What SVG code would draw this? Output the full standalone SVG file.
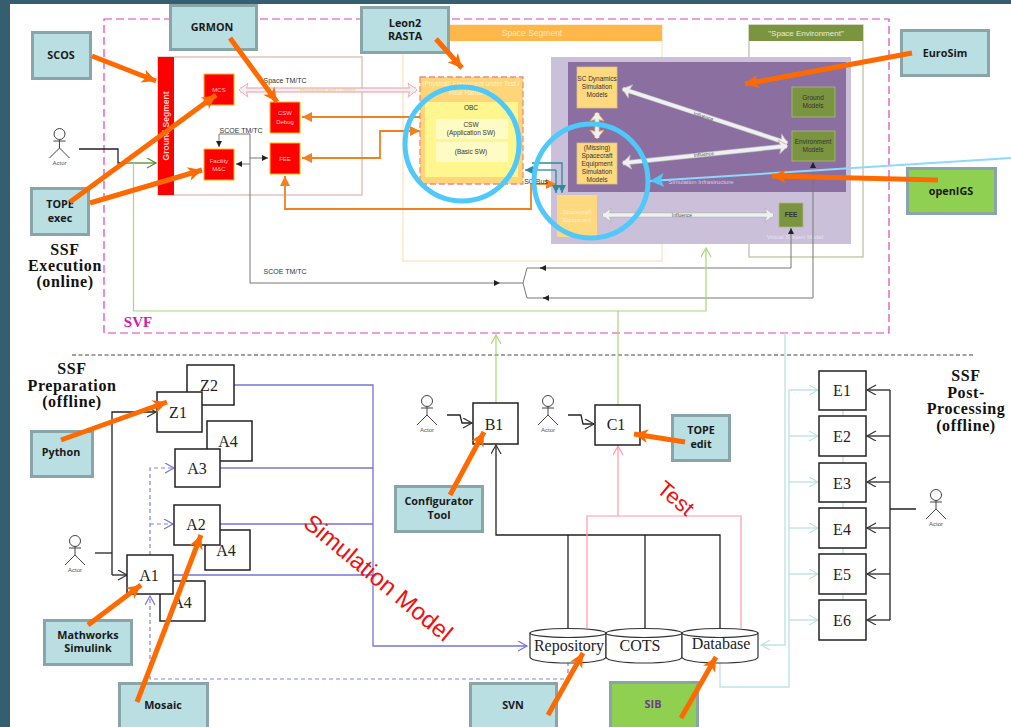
<svg xmlns="http://www.w3.org/2000/svg" width="1011" height="727" viewBox="0 0 1011 727">
<style>
text{font-family:"Liberation Sans",Arial,sans-serif;text-anchor:middle}
.tool{stroke:#8aa5a8;stroke-width:3;fill:#b9dfe2}
.grn{stroke:#8aa5a8;stroke-width:3;fill:#90d050}
.tl{font-family:"Open Sans","Liberation Sans",sans-serif;font-size:10.8px;font-weight:700;fill:#1a1a1a}
.ser{font-family:"Liberation Serif",serif;font-weight:700;font-size:16px;letter-spacing:.6px;fill:#111}
.b{fill:#fff;stroke:#222;stroke-width:1.5}
.bt{font-family:"Liberation Serif",serif;font-size:16px;fill:#222}
.red{fill:#f00;stroke:#ffc000;stroke-width:1}
.rt{font-size:6px;fill:#ffc8c8}
.yl{fill:#ffd980;stroke:#d8c080;stroke-width:.8}
.gr{fill:#7b9440;stroke:#a8bc78;stroke-width:.8}
.s{font-size:6.5px;fill:#333}
.sm{font-size:7px;fill:#333}
.o{fill:none;stroke:#ff6a00;stroke-width:5;marker-end:url(#oa)}
.m{fill:none;stroke:#f08020;stroke-width:1.8}
.g{fill:none;stroke:#777;stroke-width:1}
.k{fill:none;stroke:#222;stroke-width:1.3}
.pb{fill:none;stroke:#7474d8;stroke-width:1.3}
.pd{fill:none;stroke:#8484dd;stroke-width:1.2;stroke-dasharray:4 3}
.lg{fill:none;stroke:#a8d878;stroke-width:1.2}
.lc{fill:none;stroke:#bfe3e6;stroke-width:1.4}
.pk{fill:none;stroke:#ff9aa5;stroke-width:1.2}
.te{fill:none;stroke:#2a8aa0;stroke-width:1.3}
.infb{fill:none;stroke:#b8b8a8;stroke-width:5;marker-start:url(#ya);marker-end:url(#ya)}
.inf{fill:none;stroke:#eef0f5;stroke-width:3.5}
.circ{fill:none;stroke:#4fc8fa;stroke-width:5}
.act{fill:none;stroke:#444;stroke-width:1}
.at{font-size:6px;fill:#555}
.cy{fill:#fff;stroke:#333;stroke-width:1.2}
</style>
<defs>
<marker id="oa" markerUnits="userSpaceOnUse" markerWidth="18" markerHeight="16" refX="15" refY="8" orient="auto"><path d="M1 1L15 8L1 15L5 8Z" fill="#ff6a00"/></marker>
<marker id="ma" markerUnits="userSpaceOnUse" markerWidth="12" markerHeight="10" refX="10" refY="5" orient="auto"><path d="M0 0L10 5L0 10Z" fill="#f08020"/></marker>
<marker id="ta" markerUnits="userSpaceOnUse" markerWidth="10" markerHeight="10" refX="8" refY="4" orient="auto"><path d="M0 0L8 4L0 8Z" fill="#2a8aa0"/></marker>
<marker id="ka" markerUnits="userSpaceOnUse" markerWidth="8" markerHeight="8" refX="6" refY="3" orient="auto"><path d="M0 0L6 3L0 6Z" fill="#222"/></marker>
<marker id="ya" markerUnits="userSpaceOnUse" markerWidth="12" markerHeight="16" refX="9" refY="8" orient="auto-start-reverse"><path d="M1 1L10 8L1 15L3 8Z" fill="#eef0f5" stroke="#b8b8a8" stroke-width=".8"/></marker>
<marker id="va" markerUnits="userSpaceOnUse" markerWidth="12" markerHeight="16" refX="9" refY="8" orient="auto-start-reverse"><path d="M1 1L10 8L1 15L3 8Z" fill="#eef0f5" stroke="#e0b060" stroke-width=".8"/></marker>
<marker id="pa" markerUnits="userSpaceOnUse" markerWidth="12" markerHeight="16" refX="9" refY="8" orient="auto-start-reverse"><path d="M1 1L10 8L1 15L3 8Z" fill="#eef0f5" stroke="#f09aa0" stroke-width=".8"/></marker>
<marker id="ok" markerUnits="userSpaceOnUse" markerWidth="12" markerHeight="12" refX="10" refY="5" orient="auto"><path d="M1 0L10 5L1 10" fill="none" stroke="#333" stroke-width="1.2"/></marker>
<marker id="ob" markerUnits="userSpaceOnUse" markerWidth="12" markerHeight="12" refX="10" refY="5" orient="auto"><path d="M1 0L10 5L1 10" fill="none" stroke="#7474d8" stroke-width="1.2"/></marker>
<marker id="og" markerUnits="userSpaceOnUse" markerWidth="12" markerHeight="12" refX="10" refY="5" orient="auto"><path d="M1 0L10 5L1 10" fill="none" stroke="#a8d878" stroke-width="1.2"/></marker>
<marker id="odg" markerUnits="userSpaceOnUse" markerWidth="12" markerHeight="12" refX="10" refY="5" orient="auto"><path d="M1 0L10 5L1 10" fill="none" stroke="#4f8a30" stroke-width="1.2"/></marker>
<marker id="oc" markerUnits="userSpaceOnUse" markerWidth="12" markerHeight="12" refX="10" refY="5" orient="auto"><path d="M1 0L10 5L1 10" fill="none" stroke="#bfe3e6" stroke-width="1.2"/></marker>
<marker id="op" markerUnits="userSpaceOnUse" markerWidth="12" markerHeight="12" refX="10" refY="5" orient="auto"><path d="M1 0L10 5L1 10" fill="none" stroke="#ff9aa5" stroke-width="1.2"/></marker>
<marker id="lb" markerUnits="userSpaceOnUse" markerWidth="18" markerHeight="16" refX="15" refY="8" orient="auto"><path d="M1 1L15 8L1 15L4 8Z" fill="#4fc8fa"/></marker>
<g id="actor"><circle cx="0" cy="0" r="5.500" class="act"/><path d="M-6 7H6M0 5.500V14L-10 24M0 14L10 24" class="act"/><text x="0" y="31" class="at">Actor</text></g>
</defs>

<rect width="1011" height="727" fill="#fff"/>
<rect width="1011" height="4" fill="#355e70"/>
<rect width="10" height="727" fill="#355e70"/>

<rect id="svf-frame" x="104" y="19" width="785" height="314" fill="none" stroke="#e040c0" stroke-width="1.2" stroke-dasharray="8 4"/>
<text x="138" y="327" style="font-family:'Liberation Serif',serif;font-weight:700;font-size:15px;fill:#d020a8">SVF</text>
<path d="M72 355H973" fill="none" stroke="#444" stroke-width="1" stroke-dasharray="4 2.500"/>

<g id="ground-segment">
<rect x="158" y="57" width="204" height="138" fill="#fff" stroke="#e0c4bc" stroke-width="1.500"/>
<rect x="158" y="57" width="16" height="138" fill="#f00"/>
<text transform="translate(168.500,126) rotate(-90)" style="font-size:8.500px;font-weight:700;fill:#ffd0d0">Ground Segment</text>
</g>
<g id="space-segment">
<rect x="403" y="25" width="259" height="236" fill="#fff" stroke="#fde0b8" stroke-width="1.200"/>
<rect x="403" y="25" width="259" height="16" fill="#ffb74a"/>
<text x="532" y="36" style="font-size:8.500px;fill:#fde8c0">Space Segment</text>
</g>
<g id="space-environment">
<rect x="749" y="25" width="114" height="232" fill="#fff" stroke="#b8bc98" stroke-width="1.200"/>
<rect x="749" y="25" width="114" height="16" fill="#7b9440"/>
<text x="806" y="36" style="font-size:8px;fill:#e8eed8">"Space Environment"</text>
</g>
<g id="virtual-system-model">
<rect x="551" y="57" width="300" height="187" fill="#cbc0d9"/>
<rect x="568" y="62" width="278" height="130" fill="#8a6fa0"/>
<text x="795" y="239" style="font-size:6px;fill:#e8e2ee">Virtual System Model</text>
<text x="701" y="184" style="font-size:6px;fill:#d8cce4">Simulation Infrastructure</text>
</g>

<g id="eut">
<rect x="420" y="77" width="103" height="107" fill="#ffd57a" stroke="#f08a80" stroke-width="1.300" stroke-dasharray="6 3"/>
<text x="471" y="86" style="font-size:6.500px;fill:#fff2cc">(Physical) Equipment under Test /</text>
<text x="471" y="95" style="font-size:6.500px;fill:#fff2cc">Real Hardware</text>
<rect x="425" y="102" width="93" height="75" fill="#fff68f"/>
<text x="471" y="110" class="s">OBC</text>
<rect x="436" y="119" width="72" height="20" fill="#fffbc4"/>
<text x="471" y="127" class="s">CSW</text><text x="471" y="135" class="s">(Application SW)</text>
<rect x="436" y="142" width="72" height="20" fill="#fffbc4"/>
<text x="471" y="154" class="s">(Basic SW)</text>
</g>
<g id="mcs"><rect class="red" x="204" y="74" width="30" height="31"/><text x="219" y="92" class="rt">MCS</text></g>
<g id="csw-debug"><rect class="red" x="270" y="102" width="30" height="31"/><text x="285" y="115" class="rt">CSW</text><text x="285" y="124" class="rt">Debug</text></g>
<g id="facility"><rect class="red" x="204" y="149" width="30" height="31"/><text x="219" y="163" class="rt">Facility</text><text x="219" y="171" class="rt">M&amp;C</text></g>
<g id="fee-red"><rect class="red" x="270" y="143" width="30" height="31"/><text x="285" y="161" class="rt">FEE</text></g>
<g id="sc-dynamics"><rect class="yl" x="577" y="67" width="40" height="41"/><text x="597" y="81" class="s">SC Dynamics</text><text x="597" y="89" class="s">Simulation</text><text x="597" y="97" class="s">Models</text></g>
<g id="missing"><rect class="yl" x="577" y="143" width="40" height="41"/><text x="597" y="150" class="s">(Missing)</text><text x="597" y="158" class="s">Spacecraft</text><text x="597" y="166" class="s">Equipment</text><text x="597" y="174" class="s">Simulation</text><text x="597" y="182" class="s">Models</text></g>
<g id="spacecraft-equipment"><rect x="557" y="195" width="40" height="42" fill="#ffd980"/><text x="577" y="214" style="font-size:6px;fill:#fff0c8">Spacecraft</text><text x="577" y="222" style="font-size:6px;fill:#fff0c8">Equipment</text></g>
<g id="ground-models"><rect class="gr" x="792" y="87" width="43" height="30"/><text x="813" y="100" class="s">Ground</text><text x="813" y="108" class="s">Models</text></g>
<g id="env-models"><rect class="gr" x="792" y="131" width="43" height="30"/><text x="813" y="144" class="s">Environment</text><text x="813" y="152" class="s">Models</text></g>
<g id="fee-green"><rect class="gr" x="779" y="203" width="24" height="24"/><text x="791" y="217" class="s" style="font-weight:700">FEE</text></g>

<g id="connectors">
<path class="infb" d="M623 89L787 143"/><path class="inf" d="M623 89L787 143"/>
<path class="infb" d="M623 163L787 146"/><path class="inf" d="M623 163L787 146"/>
<path class="infb" d="M603 215L773 215"/><path class="inf" d="M603 215L773 215"/>
<path d="M597 113V138" fill="none" stroke="#e0b060" stroke-width="5" marker-start="url(#va)" marker-end="url(#va)"/><path class="inf" d="M597 113V138"/>
<path d="M240 90H416" fill="none" stroke="#f09aa0" stroke-width="5" marker-start="url(#pa)" marker-end="url(#pa)"/>
<path d="M240 90H416" fill="none" stroke="#eef0f5" stroke-width="3"/>
<path class="m" d="M420 117H302" marker-end="url(#ma)"/>
<path class="m" d="M419 131H380V158H302" marker-end="url(#ma)"/>
<path class="m" d="M410 131H420" marker-end="url(#ma)"/>
<path class="m" d="M531 184V209H285V176" marker-end="url(#ma)"/>
<path class="m" d="M531 184H556" marker-end="url(#ma)"/>
<path class="te" d="M532 163H562V193" marker-end="url(#ta)"/>
<path class="te" d="M556 170H525" marker-end="url(#ta)"/>
<path class="te" d="M556 170V193" marker-end="url(#ta)"/>
<path class="g" d="M250 158V134H219V147" marker-end="url(#ka)"/>
<path class="g" d="M250 158H268" marker-end="url(#ka)"/>
<path class="g" d="M250 158V283H500" marker-end="url(#ka)"/>
<path class="g" d="M250 164H236" marker-end="url(#ka)"/>
<path class="g" d="M500 283H523L527 268H791V228" marker-end="url(#ka)"/>
<path class="g" d="M523 283L527 298H813V162" marker-end="url(#ka)"/>
<path d="M546 268H540" fill="none" stroke="#222" stroke-width="1" marker-end="url(#ka)"/>
<path d="M549 298H543" fill="none" stroke="#222" stroke-width="1" marker-end="url(#ka)"/>
<path class="k" d="M79 149H118V163H127"/>
<path d="M125 163H156" fill="none" stroke="#4f8a30" stroke-width="1.300" marker-end="url(#odg)"/>
<path class="lg" d="M133.500 163V311H706V248" marker-end="url(#og)"/>
<path class="lg" d="M618 405V311"/>
<path class="lg" d="M496 403V335" marker-end="url(#og)"/>

<path class="pb" d="M234 385H373V646H527" marker-end="url(#ob)"/>
<path class="pb" d="M220 468H373M220 524H373M173 575H373"/>
<path class="pd" d="M150 555V468H174" marker-end="url(#ob)"/>
<path class="pd" d="M150 524H173" marker-end="url(#ob)"/>
<path class="pd" d="M568 662V679H150V596" marker-end="url(#ob)"/>
<path class="k" d="M95 553H112"/>
<path class="k" d="M112 575V412H156" marker-end="url(#ok)"/>
<path class="k" d="M112 575H127" marker-end="url(#ok)"/>
<path class="k" d="M447 415H460L462 423H472" marker-end="url(#ok)"/>
<path class="k" d="M568 415H581L583 424H594" marker-end="url(#ok)"/>
<path class="k" d="M720 628V535H496V445" marker-end="url(#ok)"/>
<path class="k" d="M568 628V535M645 628V535"/>
<path class="pk" d="M587 628V516H741V628"/>
<path class="pk" d="M618 516V446" marker-end="url(#op)"/>
<path class="lc" d="M785 333V645H761" marker-end="url(#oc)"/>
<path class="lc" d="M720 662V687H789V390H818" marker-end="url(#oc)"/>
<path class="lc" d="M789 436H818" marker-end="url(#oc)"/>
<path class="lc" d="M789 482H818" marker-end="url(#oc)"/>
<path class="lc" d="M789 528H818" marker-end="url(#oc)"/>
<path class="lc" d="M789 574H818" marker-end="url(#oc)"/>
<path class="lc" d="M789 620H818" marker-end="url(#oc)"/>
<path class="lc" d="M843 410V416M843 456V463M843 502V508M843 548V554M843 594V600"/>
<path class="k" d="M916 509H890M890 390V620"/>
<path class="k" d="M890 390H867" marker-end="url(#ok)"/>
<path class="k" d="M890 436H867" marker-end="url(#ok)"/>
<path class="k" d="M890 482H867" marker-end="url(#ok)"/>
<path class="k" d="M890 528H867" marker-end="url(#ok)"/>
<path class="k" d="M890 574H867" marker-end="url(#ok)"/>
<path class="k" d="M890 620H867" marker-end="url(#ok)"/>
</g>

<g id="labels-small">
<text x="285" y="83" class="sm">Space TM/TC</text>
<text x="328" y="92" style="font-size:5.500px;fill:#f0d060">Monitoring and Control</text>
<text x="241" y="133" class="sm">SCOE TM/TC</text>
<text x="285" y="274" class="sm">SCOE TM/TC</text>
<text x="536" y="184" class="sm">SC Bus</text>
<text x="703" y="118" transform="rotate(18 703 118)" style="font-size:5px;fill:#555">Influence</text>
<text x="704" y="156" transform="rotate(-6 704 156)" style="font-size:5px;fill:#555">Influence</text>
<text x="682" y="217" style="font-size:5px;fill:#555">Influence</text>
</g>

<g id="actor-1"><use href="#actor" x="59.500" y="134"/></g>
<g id="actor-2"><use href="#actor" x="75" y="541"/></g>
<g id="actor-3"><use href="#actor" x="427" y="401"/></g>
<g id="actor-4"><use href="#actor" x="548" y="401"/></g>
<g id="actor-5"><use href="#actor" x="936" y="495"/></g>

<g id="z2"><rect class="b" x="187" y="365" width="47" height="40"/><text x="209" y="391" class="bt">Z2</text></g>
<g id="z1"><rect class="b" x="157" y="392" width="45" height="40"/><text x="178" y="418" class="bt">Z1</text></g>
<g id="a4-1"><rect class="b" x="207" y="421" width="45" height="40"/><text x="228" y="447" class="bt">A4</text></g>
<g id="a3"><rect class="b" x="175" y="449" width="45" height="38"/><text x="197" y="474" class="bt">A3</text></g>
<g id="a4-2"><rect class="b" x="205" y="530" width="45" height="40"/><text x="226" y="556" class="bt">A4</text></g>
<g id="a2"><rect class="b" x="174" y="505" width="46" height="40"/><text x="196" y="530" class="bt">A2</text></g>
<g id="a4-3"><rect class="b" x="160" y="581" width="45" height="40"/><text x="182" y="608" class="bt">A4</text></g>
<g id="a1"><rect class="b" x="127" y="555" width="46" height="39"/><text x="149" y="581" class="bt">A1</text></g>
<g id="b1"><rect class="b" x="473" y="403" width="45" height="41"/><text x="494" y="430" class="bt">B1</text></g>
<g id="c1"><rect class="b" x="595" y="405" width="45" height="40"/><text x="616" y="430" class="bt">C1</text></g>
<g id="e1"><rect class="b" x="819" y="371" width="47" height="39"/><text x="842" y="396" class="bt">E1</text></g>
<g id="e2"><rect class="b" x="819" y="416" width="47" height="40"/><text x="842" y="442" class="bt">E2</text></g>
<g id="e3"><rect class="b" x="819" y="463" width="47" height="39"/><text x="842" y="489" class="bt">E3</text></g>
<g id="e4"><rect class="b" x="819" y="508" width="47" height="40"/><text x="842" y="535" class="bt">E4</text></g>
<g id="e5"><rect class="b" x="819" y="554" width="47" height="40"/><text x="842" y="580" class="bt">E5</text></g>
<g id="e6"><rect class="b" x="819" y="600" width="47" height="40"/><text x="842" y="626" class="bt">E6</text></g>

<g id="repository"><path class="cy" d="M530 633V657C530 665 606 665 606 657V633Z"/><ellipse class="cy" cx="568" cy="633" rx="38" ry="4.500"/><text x="569" y="651" class="bt">Repository</text></g>
<g id="cots"><path class="cy" d="M606 633V657C606 665 682 665 682 657V633Z"/><ellipse class="cy" cx="644" cy="633" rx="38" ry="4.500"/><text x="640" y="651" class="bt">COTS</text></g>
<g id="database"><path class="cy" d="M682 633V657C682 665 758 665 758 657V633Z"/><ellipse class="cy" cx="720" cy="633" rx="38" ry="4.500"/><text x="721" y="649" class="bt">Database</text></g>

<text class="ser" x="65" y="255">SSF</text><text class="ser" x="65" y="271">Execution</text><text class="ser" x="65" y="287">(online)</text>
<text class="ser" x="72" y="374">SSF</text><text class="ser" x="72" y="391">Preparation</text><text class="ser" x="72" y="407">(offline)</text>
<text class="ser" x="966" y="381">SSF</text><text class="ser" x="966" y="398">Post-</text><text class="ser" x="966" y="414">Processing</text><text class="ser" x="966" y="431">(offline)</text>
<text transform="translate(373,584) rotate(39.500)" style="font-size:24px;fill:#f01010">Simulation Model</text>
<text transform="translate(671,504) rotate(40)" style="font-size:22px;fill:#f01010">Test</text>

<g id="scos"><rect class="tool" x="32.500" y="32.500" width="58" height="46"/><text x="61" y="59" class="tl">SCOS</text></g>
<g id="grmon"><rect class="tool" x="170.500" y="5.500" width="86" height="44"/><text x="212" y="31" class="tl">GRMON</text></g>
<g id="leon2"><rect class="tool" x="361.500" y="7.500" width="87" height="45"/><text x="405" y="27" class="tl">Leon2</text><text x="405" y="40" class="tl">RASTA</text></g>
<g id="tope-exec"><rect class="tool" x="31.500" y="188.500" width="57" height="46"/><text x="60" y="208" class="tl">TOPE</text><text x="60" y="222" class="tl">exec</text></g>
<g id="eurosim"><rect class="tool" x="901.500" y="30.500" width="87" height="45"/><text x="945" y="57" class="tl">EuroSim</text></g>
<g id="openigs"><rect class="grn" x="907.500" y="168.500" width="88" height="45"/><text x="951" y="195" class="tl">openIGS</text></g>
<g id="python"><rect class="tool" x="31.500" y="431.500" width="61" height="45"/><text x="61" y="456" class="tl">Python</text></g>
<g id="mathworks"><rect class="tool" x="44.500" y="620.500" width="87" height="44"/><text x="88" y="639" class="tl">Mathworks</text><text x="88" y="652" class="tl">Simulink</text></g>
<g id="mosaic"><rect class="tool" x="119.500" y="683.500" width="88" height="50"/><text x="163" y="709" class="tl">Mosaic</text></g>
<g id="configurator"><rect class="tool" x="395.500" y="486.500" width="87" height="45"/><text x="439" y="505" class="tl">Configurator</text><text x="439" y="519" class="tl">Tool</text></g>
<g id="tope-edit"><rect class="tool" x="672.500" y="415.500" width="57" height="45"/><text x="701" y="434" class="tl">TOPE</text><text x="701" y="448" class="tl">edit</text></g>
<g id="svn"><rect class="tool" x="470.500" y="683.500" width="86" height="50"/><text x="513" y="709" class="tl">SVN</text></g>
<g id="sib"><rect class="grn" x="610.500" y="682.500" width="87" height="50"/><text x="653" y="708" class="tl" style="fill:#6a3a90">SIB</text></g>

<g id="overlays">
<circle class="circ" cx="462" cy="144" r="57"/>
<circle class="circ" cx="591" cy="181" r="57"/>
<path d="M1011 158L650 181" fill="none" stroke="#8fd8fc" stroke-width="2" marker-end="url(#lb)"/>
<path class="o" d="M92 56L156 81"/>
<path class="o" d="M230 38L277 102"/>
<path class="o" d="M70 202L216 95"/>
<path class="o" d="M90 203L202 170"/>
<path class="o" d="M436 39L462 68"/>
<path class="o" d="M912 53L745 84"/>
<path class="o" d="M938 180L772 176"/>
<path class="o" d="M61 440L167 402"/>
<path class="o" d="M88 625L141 585"/>
<path class="o" d="M137 702L201 535"/>
<path class="o" d="M450 495L484 432"/>
<path class="o" d="M685 442L634 434"/>
<path class="o" d="M548 715L583 653"/>
<path class="o" d="M681 718L716 657"/>
</g>
</svg>
